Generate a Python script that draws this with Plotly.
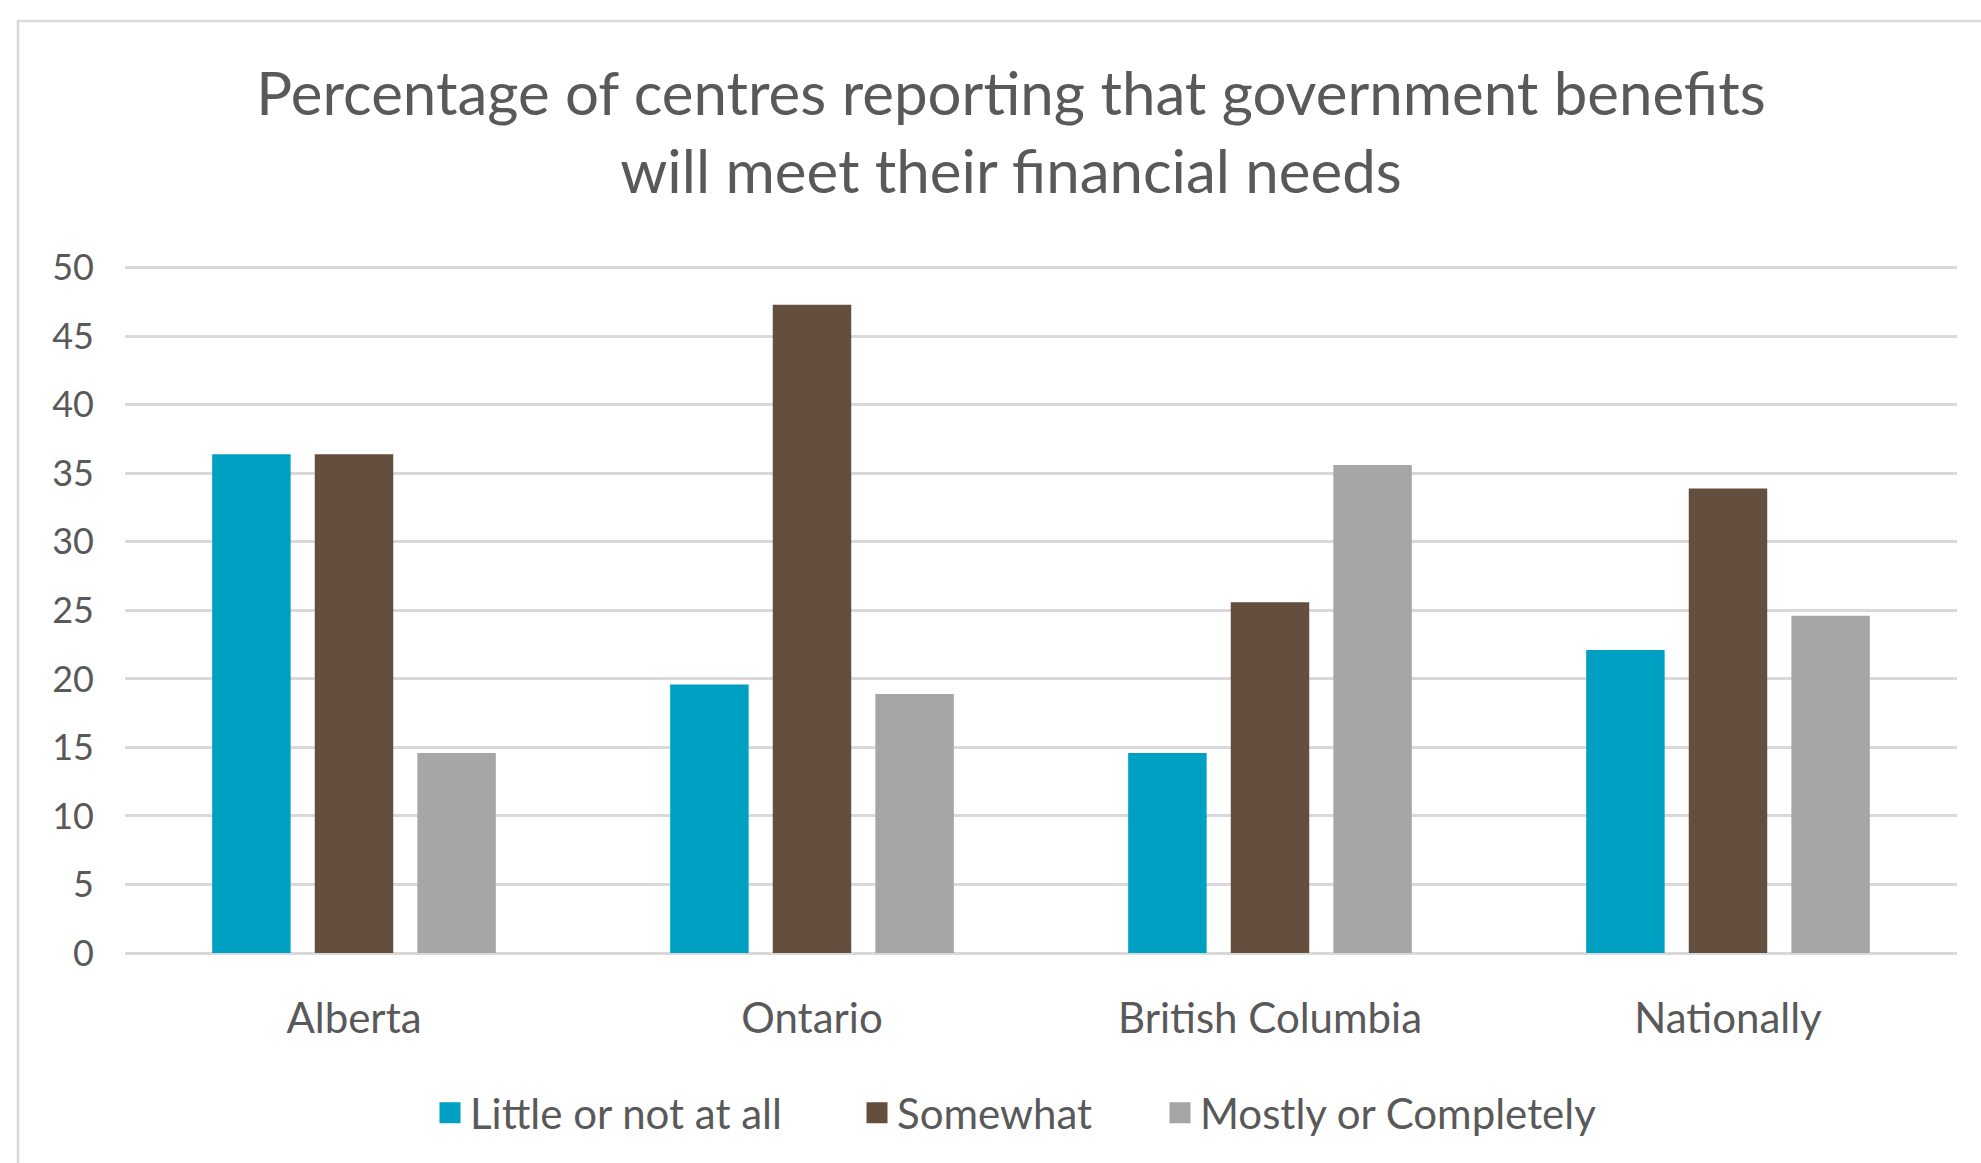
import plotly.graph_objects as go

categories = ["Alberta", "Ontario", "British Columbia", "Nationally"]
series_names = ["Little or not at all", "Somewhat", "Mostly or Completely"]
little = [36.4, 19.6, 14.6, 22.1]
somewhat = [36.4, 47.3, 25.6, 33.9]
mostly = [14.6, 18.9, 35.6, 24.6]
y_ticks = [0, 5, 10, 15, 20, 25, 30, 35, 40, 45, 50]
title_text = "Percentage of centres reporting that government benefits<br>will meet their financial needs"

colors = ["#00A0C3", "#644F3F", "#A6A6A6"]
values = [little, somewhat, mostly]
FONT = "Lato, 'Open Sans', sans-serif"
TXT = "#595959"

W, H = 1981, 1163
YMAX = 50.2
L, R, B = 125, 24, 210
T = 265
PW, PH = W - L - R, H - T - B

def px2x(px):
    return (px - L) / PW

def py2y(py):
    return 1 - (py - T) / PH

fig = go.Figure()
for name, vals, col in zip(series_names, values, colors):
    fig.add_trace(go.Bar(x=categories, y=vals, name=name, marker=dict(color=col, line=dict(width=0)),
                         showlegend=False))

legend_ids = ["legend", "legend2", "legend3"]
legend_starts = [430, 857, 1160]
for name, col, lid in zip(series_names, colors, legend_ids):
    fig.add_trace(go.Scatter(x=[None], y=[None], mode="markers", name=name, legend=lid,
                             marker=dict(symbol="square", size=16, color=col,
                                         line=dict(color=col, width=5)),
                             showlegend=True))

leg_common = dict(orientation="h", yanchor="middle", xanchor="left",
                  font=dict(family=FONT, size=42, color=TXT), bgcolor="rgba(0,0,0,0)",
                  borderwidth=0)
layout_legends = {}
for lid, sx in zip(legend_ids, legend_starts):
    layout_legends[lid] = dict(x=px2x(sx), y=py2y(1113), **leg_common)

fig.update_layout(
    width=W, height=H,
    paper_bgcolor="white", plot_bgcolor="white",
    margin=dict(l=L, r=R, t=T, b=B, autoexpand=False),
    barmode="group", bargap=0.328, bargroupgap=0.235,
    title=dict(text=title_text, x=1011 / W, xanchor="center", xref="container",
               y=1 - 115 / H, yanchor="middle", yref="container",
               font=dict(family=FONT, size=60, color=TXT)),
    xaxis=dict(showgrid=False, showline=False, ticks="", zeroline=False,
               tickfont=dict(family=FONT, size=42, color=TXT), ticklabelstandoff=37),
    yaxis=dict(range=[0, YMAX], tickvals=y_ticks, showgrid=True, gridcolor="#D9D9D9", gridwidth=2.5,
               zeroline=True, zerolinecolor="#D9D9D9", zerolinewidth=2.5, showline=False, ticks="",
               tickfont=dict(family=FONT, size=36, color=TXT), ticklabelstandoff=30),
    shapes=[dict(type="rect", xref="paper", yref="paper",
                 x0=px2x(18), x1=px2x(W + 10), y0=py2y(21), y1=py2y(H + 10),
                 line=dict(color="#D9D9D9", width=2.5), fillcolor="rgba(0,0,0,0)", layer="below")],
    **layout_legends,
)

fig.write_html("out.html", config={"displayModeBar": False},
               post_script="document.body.style.margin='0';")
